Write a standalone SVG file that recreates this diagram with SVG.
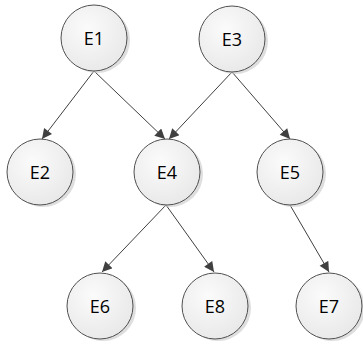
<svg xmlns="http://www.w3.org/2000/svg" width="363" height="344" viewBox="0 0 363 344">
<defs>
<radialGradient id="g" cx="0.4" cy="0.35" r="0.7">
<stop offset="0" stop-color="#fbfbfb"/>
<stop offset="1" stop-color="#e8e8e8"/>
</radialGradient>
<marker id="ah" viewBox="0 0 10 10" refX="10" refY="5" markerWidth="11" markerHeight="10" markerUnits="userSpaceOnUse" orient="auto">
<path d="M0,0 L10,5 L0,10 Z" fill="#404040"/>
</marker>
</defs>
<style>
.shadow{fill:#d0d0d0;opacity:0.7}
.node{fill:url(#g);stroke:#505050;stroke-width:1}
.lbl{font-family:"Open Sans","Liberation Sans",sans-serif;font-size:18px;fill:#000;text-anchor:middle;dominant-baseline:central}
.edge{stroke:#404040;stroke-width:1;fill:none;marker-end:url(#ah)}
</style>
<g id="connectors">
<line class="edge" x1="94" y1="71" x2="42" y2="139"/>
<line class="edge" x1="94" y1="71" x2="165" y2="139"/>
<line class="edge" x1="232" y1="72" x2="169" y2="139"/>
<line class="edge" x1="232" y1="72" x2="290" y2="139"/>
<line class="edge" x1="166" y1="205" x2="102" y2="272"/>
<line class="edge" x1="166" y1="205" x2="214" y2="272"/>
<line class="edge" x1="290" y1="205" x2="329" y2="272"/>
</g>
<g id="E1"><circle class="shadow" cx="97" cy="40" r="33"/><circle class="node" cx="94" cy="38" r="33"/><text class="lbl" x="94" y="38">E1</text></g>
<g id="E3"><circle class="shadow" cx="235" cy="41" r="33"/><circle class="node" cx="232" cy="39" r="33"/><text class="lbl" x="232" y="39">E3</text></g>
<g id="E2"><circle class="shadow" cx="43" cy="174" r="33"/><circle class="node" cx="40" cy="172" r="33"/><text class="lbl" x="40" y="172">E2</text></g>
<g id="E4"><circle class="shadow" cx="170" cy="174" r="33"/><circle class="node" cx="167" cy="172" r="33"/><text class="lbl" x="167" y="172">E4</text></g>
<g id="E5"><circle class="shadow" cx="293" cy="174" r="33"/><circle class="node" cx="290" cy="172" r="33"/><text class="lbl" x="290" y="172">E5</text></g>
<g id="E6"><circle class="shadow" cx="103" cy="308" r="33"/><circle class="node" cx="100" cy="306" r="33"/><text class="lbl" x="100" y="306">E6</text></g>
<g id="E8"><circle class="shadow" cx="218" cy="308" r="33"/><circle class="node" cx="215" cy="306" r="33"/><text class="lbl" x="215" y="306">E8</text></g>
<g id="E7"><circle class="shadow" cx="332" cy="308" r="33"/><circle class="node" cx="329" cy="306" r="33"/><text class="lbl" x="329" y="306">E7</text></g>
</svg>
